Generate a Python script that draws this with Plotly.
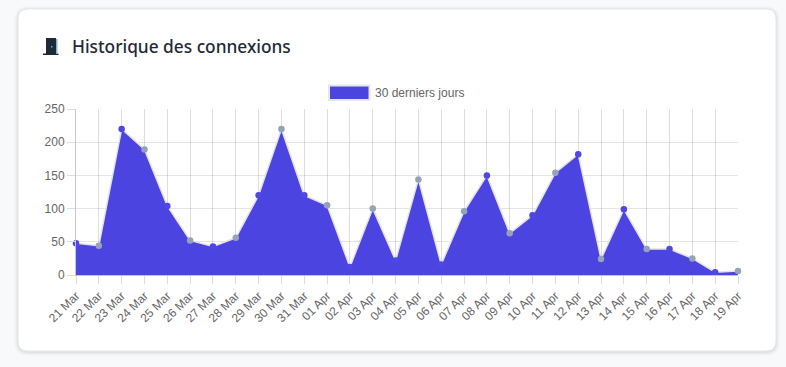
import plotly.graph_objects as go

W, H = 786, 367
L, R, T, B = 76, 738, 109, 275

dates = ["21 Mar","22 Mar","23 Mar","24 Mar","25 Mar","26 Mar","27 Mar","28 Mar","29 Mar","30 Mar","31 Mar",
         "01 Apr","02 Apr","03 Apr","04 Apr","05 Apr","06 Apr","07 Apr","08 Apr","09 Apr","10 Apr","11 Apr",
         "12 Apr","13 Apr","14 Apr","15 Apr","16 Apr","17 Apr","18 Apr","19 Apr"]
connexions = [48,44,220,189,104,52,43,56,120,220,120,105,12,100,22,144,16,96,150,63,90,154,182,24,99,39,39,25,4,6]
y_ticks = [0, 50, 100, 150, 200, 250]
legend_label = "30 derniers jours"
title_text = "Historique des connexions"

INDIGO = "#4f46e5"
FILL = "#4c44e0"
SLATE = "#94a3b8"
marker_colors = [INDIGO if i % 2 == 0 else SLATE for i in range(len(dates))]

def px(x): return (x - L) / (R - L)
def py(y): return (B - y) / (B - T)

def round_rect(x0, y0, x1, y1, r):
    X0, X1 = px(x0), px(x1)
    Y0, Y1 = py(y0), py(y1)
    rx, ry = r / (R - L), r / (B - T)
    return (f"M {X0+rx} {Y0} L {X1-rx} {Y0} Q {X1} {Y0} {X1} {Y0-ry} "
            f"L {X1} {Y1+ry} Q {X1} {Y1} {X1-rx} {Y1} "
            f"L {X0+rx} {Y1} Q {X0} {Y1} {X0} {Y1+ry} "
            f"L {X0} {Y0-ry} Q {X0} {Y0} {X0+rx} {Y0} Z")

shapes = []
for g, a in [(4, .012), (3, .018), (2, .025), (1, .035)]:
    shapes.append(dict(type="path", xref="paper", yref="paper", layer="below", line_width=0,
                       fillcolor=f"rgba(0,0,0,{a})", path=round_rect(18-g, 9-g+1, 776+g, 351+g+1, 10+g)))
shapes.append(dict(type="path", xref="paper", yref="paper", layer="below",
                   line=dict(color="#e5e7eb", width=1), fillcolor="white",
                   path=round_rect(18, 9, 776, 351, 10)))
# door icon
def rect(x0, y0, x1, y1, color):
    shapes.append(dict(type="rect", xref="paper", yref="paper", layer="below", line_width=0, fillcolor=color,
                       x0=px(x0), x1=px(x1), y0=py(y1), y1=py(y0)))
rect(43, 53.5, 58.5, 55, "#1f2937")
rect(46, 38, 56, 54, "#1f2937")
rect(56, 39, 57.5, 54, "#7fb2dc")
rect(51, 46, 52.5, 47.5, "#60a5fa")
# legend swatch
shapes.append(dict(type="rect", xref="paper", yref="paper", layer="above", fillcolor=FILL,
                   line=dict(color="#e5e7eb", width=2),
                   x0=px(329), x1=px(369.5), y0=py(100), y1=py(85.5)))

fig = go.Figure(go.Scatter(
    x=dates, y=connexions, mode="lines+markers", fill="tozeroy", fillcolor=FILL,
    line=dict(color="#e2e2e8", width=1.5),
    marker=dict(color=marker_colors, size=6.5, line_width=0),
    cliponaxis=False, showlegend=False, hoverinfo="x+y"))

fig.update_layout(
    width=W, height=H, autosize=False,
    margin=dict(l=L, r=W-R, t=T, b=H-B, autoexpand=False),
    paper_bgcolor="#f8f9fb", plot_bgcolor="rgba(0,0,0,0)",
    font=dict(family="Liberation Sans", size=12, color="#666666"),
    shapes=shapes,
    annotations=[
        dict(text=title_text, xref="paper", yref="paper", x=px(70), y=py(46.5), xanchor="left", yanchor="middle",
             showarrow=False, font=dict(family="Noto Sans", size=17.3, color="#1f2937", weight=500)),
        dict(text=legend_label, xref="paper", yref="paper", x=px(373), y=py(92.5), xanchor="left", yanchor="middle",
             showarrow=False, font=dict(family="Liberation Sans", size=12, color="#666666")),
    ],
)
fig.update_xaxes(type="category", categoryorder="array", categoryarray=dates, range=[0, len(dates)-1],
                 tickangle=-45, ticks="outside", ticklen=8, tickcolor="#dddddd", tickwidth=1,
                 showgrid=True, gridcolor="rgba(0,0,0,0.13)", gridwidth=1,
                 showline=True, linecolor="#c8c8c8", mirror=False, zeroline=False, tickfont=dict(size=12, color="#666666"))
fig.update_yaxes(range=[0, 250], tickvals=y_ticks, ticks="outside", ticklen=8, tickcolor="#dddddd", tickwidth=1,
                 showgrid=True, gridcolor="rgba(0,0,0,0.1)", gridwidth=1, zeroline=False,
                 showline=True, linecolor="#c8c8c8", tickfont=dict(size=12, color="#666666"))
fig.write_html("out.html", config={"displayModeBar": False},
               post_script="document.body.style.margin='0';document.body.style.background='#f8f9fb';window.dispatchEvent(new Event('resize'));")
